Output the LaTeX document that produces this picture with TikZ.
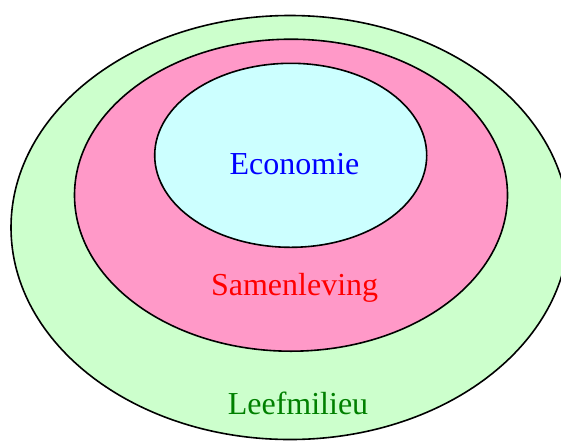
\documentclass[tikz,border=0pt]{standalone}
\usepackage{fontspec}
\setmainfont{Liberation Serif}
\definecolor{envgreen}{HTML}{CCFFCC}
\definecolor{socpink}{HTML}{FF99C8}
\definecolor{ecocyan}{HTML}{CCFFFF}
\definecolor{txtgreen}{HTML}{008000}
\begin{document}
\begin{tikzpicture}[x=1pt,y=-1pt,
  ring/.style={draw=black,line width=1.6pt},
  lbl/.style={anchor=base,inner sep=0pt,font=\fontsize{32}{38}\selectfont}]
\useasboundingbox (0,0) rectangle (561,440);
\clip (0,0) rectangle (561,440);
\fill[white] (0,0) rectangle (561,440);
\draw[ring,fill=envgreen] (290,227.5) ellipse [x radius=279, y radius=212];
\draw[ring,fill=socpink] (291,195.2) ellipse [x radius=216.5, y radius=156];
\draw[ring,fill=ecocyan] (290.7,155.3) ellipse [x radius=136, y radius=92];
\node[lbl,text=blue] (eco) at (294.5,174) {Economie};
\node[lbl,text=red] (soc) at (294.6,295) {Samenleving};
\node[lbl,text=txtgreen] (env) at (298,414) {Leefmilieu};
\end{tikzpicture}
\end{document}
